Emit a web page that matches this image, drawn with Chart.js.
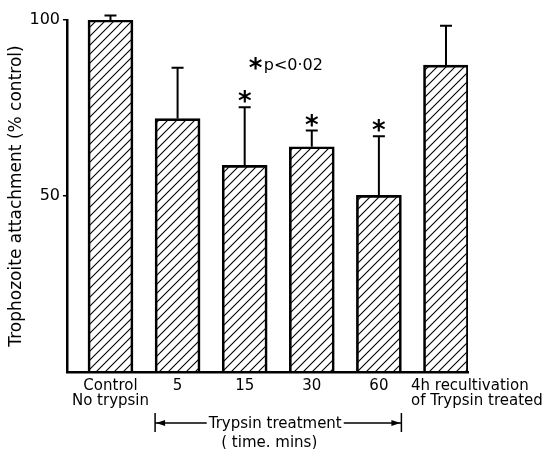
<!DOCTYPE html>
<html lang="en">
<head>
    <meta charset="UTF-8">
    <title>Trophozoite attachment</title>
    <script src="https://cdn.jsdelivr.net/npm/chart.js"></script>
    <style>
        body { margin: 0; background: #fff; }
        #wrap { width: 559px; height: 449px; }
    </style>
</head>
<body>
<div id="wrap"><canvas id="myChart" width="559" height="449"></canvas></div>
<script>
    // data
    const categories = [
        ['Control', 'No trypsin'],
        ['5'],
        ['15'],
        ['30'],
        ['60'],
        ['4h recultivation', 'of Trypsin treated']
    ];
    const attachment = [100, 72, 58.7, 64, 50.2, 87.2];
    const errorUp = [1.3, 14.4, 16.5, 4.6, 16.8, 11.2];
    const significant = [false, false, true, true, true, false];
    const yTicks = [50, 100];

    const FONT = 'DejaVu Sans';

    function hatch() {
        const c = document.createElement('canvas');
        c.width = 9; c.height = 9;
        const g = c.getContext('2d');
        g.strokeStyle = '#000';
        g.lineWidth = 1.1;
        g.beginPath();
        g.moveTo(0, 9); g.lineTo(9, 0);
        g.moveTo(-1, 1); g.lineTo(1, -1);
        g.moveTo(8, 10); g.lineTo(10, 8);
        g.stroke();
        return g.createPattern(c, 'repeat');
    }

    const barWidth = 45;

    const extras = {
        id: 'extras',
        afterDatasetsDraw(chart) {
            const ctx = chart.ctx;
            const x = chart.scales.x, y = chart.scales.y;
            const bars = chart.getDatasetMeta(0).data;
            ctx.save();
            ctx.strokeStyle = '#000';
            ctx.fillStyle = '#000';
            ctx.lineWidth = 2;
            bars.forEach((b, i) => {
                const top = y.getPixelForValue(attachment[i] + errorUp[i]);
                ctx.beginPath();
                ctx.moveTo(b.x, b.y);
                ctx.lineTo(b.x, top);
                ctx.moveTo(b.x - 6, top);
                ctx.lineTo(b.x + 6, top);
                ctx.stroke();
                if (significant[i]) {
                    ctx.font = 'bold 26px ' + FONT;
                    ctx.textAlign = 'center';
                    ctx.textBaseline = 'alphabetic';
                    ctx.fillText('*', b.x, top + 3);
                }
            });

            // category labels under the axis
            ctx.font = '15px ' + FONT;
            ctx.textBaseline = 'alphabetic';
            categories.forEach((lines, i) => {
                const cx = x.getPixelForValue(i);
                const last = i === categories.length - 1;
                ctx.textAlign = last ? 'left' : 'center';
                const lx = last ? cx - 35 : cx;
                lines.forEach((t, k) => ctx.fillText(t, lx, y.bottom + 18 + k * 15));
            });

            // bracket for the trypsin treatment group
            const x1 = x.getPixelForValue(1) - barWidth / 2;
            const x2 = x.getPixelForValue(4) + barWidth / 2;
            const by = y.bottom + 51;
            ctx.font = '15px ' + FONT;
            ctx.textAlign = 'center';
            const label = 'Trypsin treatment';
            const mid = (x1 + x2) / 2 - 3;
            const half = ctx.measureText(label).width / 2;
            ctx.fillText(label, mid, by + 5);
            ctx.fillText('( time. mins)', mid - 6, by + 24);
            ctx.lineWidth = 1.5;
            ctx.beginPath();
            ctx.moveTo(x1, by - 10); ctx.lineTo(x1, by + 9);
            ctx.moveTo(x2, by - 10); ctx.lineTo(x2, by + 9);
            ctx.moveTo(x1, by); ctx.lineTo(mid - half - 2, by);
            ctx.moveTo(mid + half + 2, by); ctx.lineTo(x2, by);
            ctx.stroke();
            ctx.beginPath();
            ctx.moveTo(x1 + 1, by); ctx.lineTo(x1 + 10, by - 3); ctx.lineTo(x1 + 10, by + 3); ctx.closePath();
            ctx.moveTo(x2 - 1, by); ctx.lineTo(x2 - 10, by - 3); ctx.lineTo(x2 - 10, by + 3); ctx.closePath();
            ctx.fill();

            // significance key
            ctx.textAlign = 'left';
            ctx.font = 'bold 26px ' + FONT;
            ctx.fillText('*', x.getPixelForValue(2.15) - 6, y.getPixelForValue(87.2) + 12);
            ctx.font = '16px ' + FONT;
            ctx.fillText('p<0·02', x.getPixelForValue(2.15) + 9, y.getPixelForValue(87.2) + 5);
            ctx.restore();
        }
    };

    const ctx = document.getElementById('myChart');
    new Chart(ctx, {
        type: 'bar',
        data: {
            datasets: [{
                data: attachment.map((v, i) => ({x: i, y: v})),
                backgroundColor: hatch(),
                borderColor: '#000',
                borderWidth: 2,
                borderSkipped: 'bottom',
                barThickness: barWidth
            }]
        },
        options: {
            responsive: false,
            animation: false,
            layout: { padding: { left: 0, right: 91, top: 20, bottom: 77 } },
            plugins: { legend: { display: false }, tooltip: { enabled: false } },
            scales: {
                x: {
                    type: 'linear',
                    offset: false,
                    min: -0.648,
                    max: 5.328,
                    grid: { display: false, offset: false },
                    ticks: { display: false },
                    border: { display: true, color: '#000', width: 2.5 },
                    afterFit: s => { s.height = 0; }
                },
                y: {
                    min: 0,
                    max: 100,
                    afterBuildTicks: s => { s.ticks = yTicks.map(v => ({value: v})); },
                    ticks: { color: '#000', font: { family: FONT, size: 16 }, padding: 3 },
                    grid: { drawOnChartArea: false, color: '#000', tickLength: 4, lineWidth: 1.5 },
                    border: { display: true, color: '#000', width: 2.5 },
                    title: {
                        display: true,
                        text: 'Trophozoite attachment (% control)',
                        color: '#000',
                        font: { family: FONT, size: 17 },
                        padding: { top: 6, bottom: 0 }
                    },
                    afterFit: s => { s.width = 67; }
                }
            }
        },
        plugins: [extras]
    });
</script>
</body>
</html>
